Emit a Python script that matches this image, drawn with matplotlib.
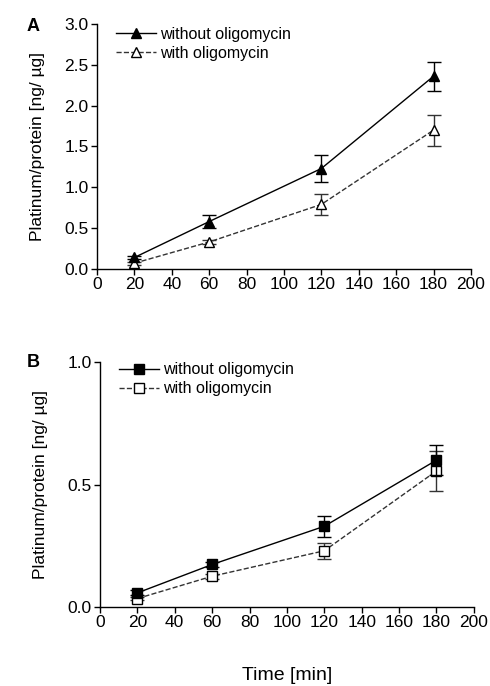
import numpy as np
import matplotlib.pyplot as plt

plt.rcParams['font.family'] = ['Liberation Sans', 'DejaVu Sans']

time_min = [20, 60, 120, 180]

# panel A
a_without = [0.14, 0.58, 1.23, 2.36]
a_without_err = [0.02, 0.08, 0.16, 0.18]
a_with = [0.07, 0.33, 0.79, 1.70]
a_with_err = [0.02, 0.03, 0.13, 0.19]

# panel B
b_without = [0.058, 0.174, 0.33, 0.60]
b_without_err = [0.010, 0.012, 0.043, 0.062]
b_with = [0.035, 0.126, 0.23, 0.556]
b_with_err = [0.008, 0.010, 0.032, 0.08]

xticks = list(range(0, 201, 20))
a_yticks = [0.0, 0.5, 1.0, 1.5, 2.0, 2.5, 3.0]
b_yticks = [0.0, 0.5, 1.0]

ylabel = "Platinum/protein [ng/ \u00b5g]"

fig = plt.figure(figsize=(4.9, 6.86), dpi=100, facecolor='white')
ax_a = fig.add_axes([0.198, 0.608, 0.763, 0.357])
ax_b = fig.add_axes([0.204, 0.115, 0.763, 0.357])


def draw_panel(ax, y1, e1, y2, e2, marker, yticks, ylim, leg_y):
    c1 = ax.errorbar(time_min, y1, yerr=e1, color='black', lw=1.0, marker=marker,
                     ms=6.5, mfc='black', mec='black', capsize=5, elinewidth=1.0,
                     capthick=1.0, zorder=3)
    c2 = ax.errorbar(time_min, y2, yerr=e2, color='#333333', lw=1.0, ls='--',
                     marker=marker, ms=6.5, mfc='white', mec='black', capsize=5,
                     elinewidth=1.0, capthick=1.0, zorder=2)
    ax.set_xlim(0, 200)
    ax.set_ylim(*ylim)
    ax.set_xticks(xticks)
    ax.set_yticks(yticks)
    ax.set_yticklabels(['%.1f' % v for v in yticks])
    for s in ['top', 'right']:
        ax.spines[s].set_visible(False)
    for s in ['left', 'bottom']:
        ax.spines[s].set_linewidth(1.0)
    ax.tick_params(direction='out', length=4, width=1.0, labelsize=12.5, pad=2)
    ax.set_ylabel(ylabel, fontsize=12.5, labelpad=14)
    ax.legend([c1[0], c2[0]], ['without oligomycin', 'with oligomycin'],
              loc='upper left', bbox_to_anchor=(0.035, leg_y), frameon=False,
              fontsize=11.5, handlelength=2.5, handletextpad=0.25,
              labelspacing=0.25, borderaxespad=0)


draw_panel(ax_a, a_without, a_without_err, a_with, a_with_err, '^',
           a_yticks, (0, 3.0), 1.015)
draw_panel(ax_b, b_without, b_without_err, b_with, b_with_err, 's',
           b_yticks, (0, 1.0), 1.025)

ax_b.set_xlabel("Time [min]", fontsize=14, labelpad=26)

fig.text(0.055, 0.962, "A", fontsize=13, fontweight='bold', va='center')
fig.text(0.055, 0.472, "B", fontsize=13, fontweight='bold', va='center')

fig.savefig("out.png", dpi=100, facecolor='white')
